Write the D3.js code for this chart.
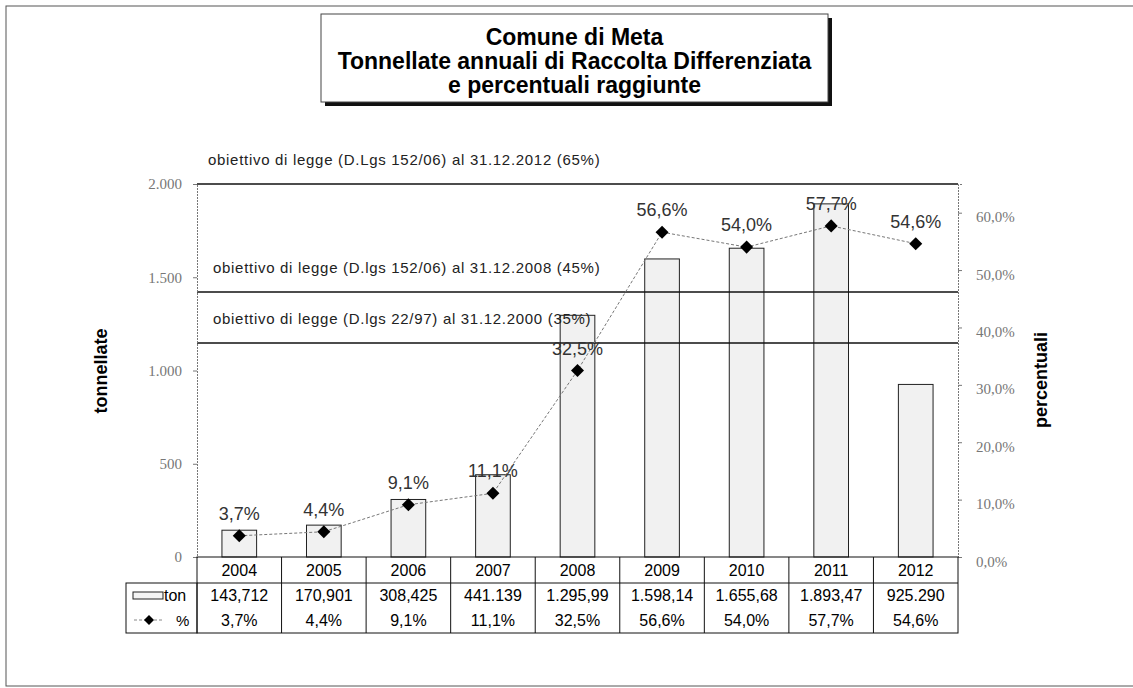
<!DOCTYPE html>
<html>
<head>
<meta charset="utf-8">
<script src="https://cdn.jsdelivr.net/npm/d3@7"></script>
<style>
  body { margin: 0; background: #fff; }
  svg { font-family: "Liberation Sans", Arial, sans-serif; }
</style>
</head>
<body>
<div id="chart"></div>
<script>
// dati
var years = ["2004", "2005", "2006", "2007", "2008", "2009", "2010", "2011", "2012"];
var tonValues = [143.712, 170.901, 308.425, 441.139, 1295.99, 1598.14, 1655.68, 1893.47, 925.29];
var tonLabels = ["143,712", "170,901", "308,425", "441.139", "1.295,99", "1.598,14", "1.655,68", "1.893,47", "925.290"];
var pctValues = [3.7, 4.4, 9.1, 11.1, 32.5, 56.6, 54.0, 57.7, 54.6];
var leftTicks = [0, 500, 1000, 1500, 2000];
var leftTickLabels = ["0", "500", "1.000", "1.500", "2.000"];
var rightTicks = [0, 10, 20, 30, 40, 50, 60];
var rightTickLabels = ["0,0%", "10,0%", "20,0%", "30,0%", "40,0%", "50,0%", "60,0%"];
// obiettivi di legge (posizione, in %)
var targetLevels = [65, 46.2, 37.3];
var targetLabels = [
  "obiettivo di legge (D.Lgs 152/06) al 31.12.2012 (65%)",
  "obiettivo di legge  (D.lgs 152/06) al 31.12.2008 (45%)",
  "obiettivo di legge  (D.lgs 22/97) al 31.12.2000 (35%)"
];
var titleLines = ["Comune di Meta", "Tonnellate annuali di Raccolta Differenziata", "e percentuali raggiunte"];

var W = 1133, H = 688;
var plot = {left: 197, right: 958, top: 184, bottom: 557};
var rowH = [26, 25, 25];

var svg = d3.select("#chart").append("svg")
    .attr("width", W)
    .attr("height", H);

// cornice esterna
svg.append("rect")
    .attr("x", 6).attr("y", 6)
    .attr("width", 1140).attr("height", 680)
    .attr("fill", "none")
    .attr("stroke", "#555")
    .attr("stroke-width", 1);

// titolo
var tb = {x: 321, y: 14, w: 507, h: 88};
svg.append("rect")
    .attr("x", tb.x + 4).attr("y", tb.y + 4)
    .attr("width", tb.w).attr("height", tb.h)
    .attr("fill", "#111");
svg.append("rect")
    .attr("x", tb.x).attr("y", tb.y)
    .attr("width", tb.w).attr("height", tb.h)
    .attr("fill", "#fff")
    .attr("stroke", "#444");
svg.selectAll("text.title")
    .data(titleLines)
    .enter()
    .append("text")
    .attr("class", "title")
    .attr("x", tb.x + tb.w / 2)
    .attr("y", function(d, i) { return 45 + i * 24; })
    .attr("text-anchor", "middle")
    .style("font-size", "23px")
    .style("font-weight", "bold")
    .text(function(d) { return d; });

// scale
var x = d3.scaleBand()
    .domain(years)
    .range([plot.left, plot.right])
    .paddingInner(0)
    .paddingOuter(0);

var yTon = d3.scaleLinear().domain([0, 2000]).range([plot.bottom, plot.top]);
var yPct = d3.scaleLinear().domain([0, 65]).range([plot.bottom, plot.top]);

var barW = x.bandwidth() * 0.41;

// barre
svg.selectAll("rect.bar")
    .data(tonValues)
    .enter()
    .append("rect")
    .attr("class", "bar")
    .attr("x", function(d, i) { return x(years[i]) + (x.bandwidth() - barW) / 2; })
    .attr("y", function(d) { return yTon(d); })
    .attr("width", barW)
    .attr("height", function(d) { return plot.bottom - yTon(d); })
    .attr("fill", "#f1f1f1")
    .attr("stroke", "#222")
    .attr("stroke-width", 1);

// linee obiettivo
svg.selectAll("line.target")
    .data(targetLevels)
    .enter()
    .append("line")
    .attr("class", "target")
    .attr("x1", plot.left).attr("x2", plot.right)
    .attr("y1", function(d) { return yPct(d); })
    .attr("y2", function(d) { return yPct(d); })
    .attr("stroke", "#111")
    .attr("stroke-width", 1.5);

svg.selectAll("text.target")
    .data(targetLevels)
    .enter()
    .append("text")
    .attr("class", "target")
    .attr("x", function(d, i) { return i === 0 ? 208 : 213; })
    .attr("y", function(d, i) { return yPct(d) - 19; })
    .style("font-size", "15px")
    .style("letter-spacing", "0.7px")
    .attr("fill", "#222")
    .text(function(d, i) { return targetLabels[i]; });

// asse sinistro
var leftAxis = svg.append("g")
    .attr("transform", "translate(" + plot.left + ",0)")
    .call(d3.axisLeft(yTon)
        .tickValues(leftTicks)
        .tickSize(4)
        .tickFormat(function(d, i) { return leftTickLabels[i]; }));
leftAxis.select(".domain").attr("stroke", "#777").attr("stroke-dasharray", "2,1");
leftAxis.selectAll(".tick line").attr("stroke", "#777");
leftAxis.selectAll(".tick text")
    .attr("x", -15)
    .attr("fill", "#777")
    .style("font-size", "15px")
    .style("font-family", "'Liberation Serif', serif");

// asse destro
var rightAxis = svg.append("g")
    .attr("transform", "translate(" + plot.right + ",0)")
    .call(d3.axisRight(yPct)
        .tickValues(rightTicks)
        .tickSize(4)
        .tickFormat(function(d, i) { return rightTickLabels[i]; }));
rightAxis.select(".domain").attr("stroke", "#777").attr("stroke-dasharray", "2,1");
rightAxis.selectAll(".tick line").attr("stroke", "#777");
rightAxis.selectAll(".tick text")
    .attr("x", 18)
    .attr("dy", "0.6em")
    .attr("fill", "#777")
    .style("font-size", "15px")
    .style("font-family", "'Liberation Serif', serif");

// titoli assi
svg.append("text")
    .attr("transform", "translate(107,371) rotate(-90)")
    .attr("text-anchor", "middle")
    .style("font-size", "18px")
    .style("font-weight", "bold")
    .text("tonnellate");
svg.append("text")
    .attr("transform", "translate(1047,380) rotate(-90)")
    .attr("text-anchor", "middle")
    .style("font-size", "18px")
    .style("font-weight", "bold")
    .text("percentuali");

// linea percentuali
var line = d3.line()
    .x(function(d, i) { return x(years[i]) + x.bandwidth() / 2; })
    .y(function(d) { return yPct(d); });

svg.append("path")
    .datum(pctValues)
    .attr("d", line)
    .attr("fill", "none")
    .attr("stroke", "#777")
    .attr("stroke-width", 1)
    .attr("stroke-dasharray", "3,2");

svg.selectAll("path.marker")
    .data(pctValues)
    .enter()
    .append("path")
    .attr("class", "marker")
    .attr("d", d3.symbol().type(d3.symbolSquare).size(85))
    .attr("transform", function(d, i) {
        return "translate(" + (x(years[i]) + x.bandwidth() / 2) + "," + yPct(d) + ") rotate(45)";
    })
    .attr("fill", "#000");

svg.selectAll("text.pct")
    .data(pctValues)
    .enter()
    .append("text")
    .attr("class", "pct")
    .attr("x", function(d, i) { return x(years[i]) + x.bandwidth() / 2; })
    .attr("y", function(d) { return yPct(d) - 16; })
    .attr("text-anchor", "middle")
    .attr("fill", "#333")
    .style("font-size", "18px")
    .text(function(d) { return d.toFixed(1).replace(".", ",") + "%"; });

// tabella dati
var t0 = plot.bottom, t1 = t0 + rowH[0], t2 = t1 + rowH[1], t3 = t2 + rowH[2];
var table = svg.append("g").attr("class", "table");
var legendLeft = 126;

table.append("rect")
    .attr("x", plot.left).attr("y", t0)
    .attr("width", plot.right - plot.left).attr("height", t3 - t0)
    .attr("fill", "none").attr("stroke", "#111");
table.append("rect")
    .attr("x", legendLeft).attr("y", t1)
    .attr("width", plot.left - legendLeft).attr("height", t3 - t1)
    .attr("fill", "none").attr("stroke", "#111");
table.append("line")
    .attr("x1", plot.left).attr("x2", plot.right)
    .attr("y1", t1).attr("y2", t1)
    .attr("stroke", "#111");
table.selectAll("line.col")
    .data(years.slice(1))
    .enter()
    .append("line")
    .attr("class", "col")
    .attr("x1", function(d) { return x(d); })
    .attr("x2", function(d) { return x(d); })
    .attr("y1", t0).attr("y2", t3)
    .attr("stroke", "#111");

table.selectAll("text.year")
    .data(years)
    .enter()
    .append("text")
    .attr("class", "year")
    .attr("x", function(d) { return x(d) + x.bandwidth() / 2; })
    .attr("y", t0 + 19)
    .attr("text-anchor", "middle")
    .style("font-size", "16px")
    .text(function(d) { return d; });

table.selectAll("text.ton")
    .data(tonLabels)
    .enter()
    .append("text")
    .attr("class", "ton")
    .attr("x", function(d, i) { return x(years[i]) + x.bandwidth() / 2; })
    .attr("y", t1 + 18)
    .attr("text-anchor", "middle")
    .style("font-size", "16px")
    .text(function(d) { return d; });

table.selectAll("text.pctcell")
    .data(pctValues)
    .enter()
    .append("text")
    .attr("class", "pctcell")
    .attr("x", function(d, i) { return x(years[i]) + x.bandwidth() / 2; })
    .attr("y", t2 + 18)
    .attr("text-anchor", "middle")
    .style("font-size", "16px")
    .text(function(d) { return d.toFixed(1).replace(".", ",") + "%"; });

// legenda nella tabella
table.append("rect")
    .attr("x", 133).attr("y", t1 + 9)
    .attr("width", 30).attr("height", 7)
    .attr("fill", "#f4f4f4").attr("stroke", "#222");
table.append("text")
    .attr("x", 164).attr("y", t1 + 18)
    .style("font-size", "16px")
    .text("ton");
table.append("line")
    .attr("x1", 134).attr("x2", 164)
    .attr("y1", t2 + 12).attr("y2", t2 + 12)
    .attr("stroke", "#888").attr("stroke-dasharray", "3,2");
table.append("path")
    .attr("d", d3.symbol().type(d3.symbolSquare).size(50))
    .attr("transform", "translate(149," + (t2 + 12) + ") rotate(45)")
    .attr("fill", "#000");
table.append("text")
    .attr("x", 176).attr("y", t2 + 18)
    .style("font-size", "15px")
    .text("%");
</script>
</body>
</html>
